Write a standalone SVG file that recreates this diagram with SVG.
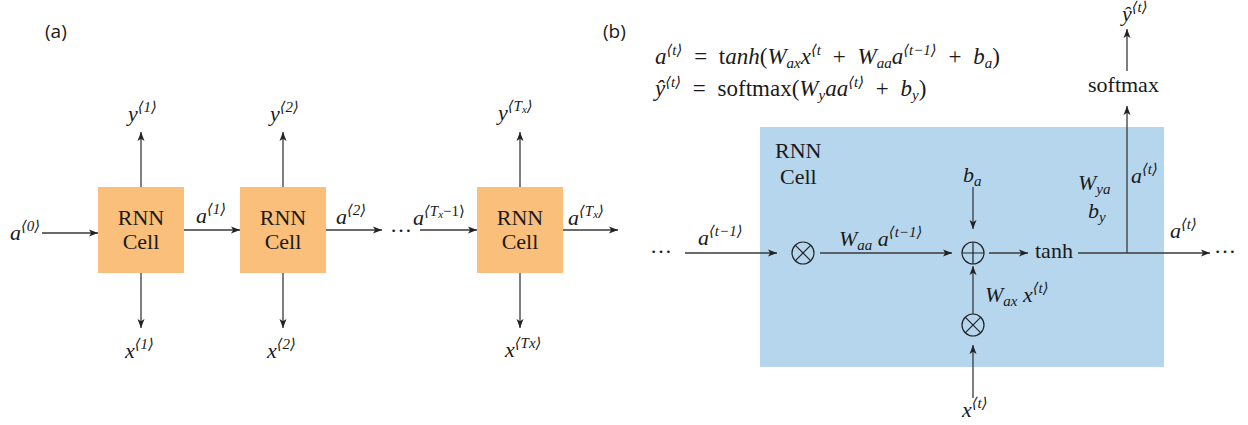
<svg xmlns="http://www.w3.org/2000/svg" width="1248" height="425" viewBox="0 0 1248 425">
<style>
.m{font-family:"Liberation Serif","DejaVu Serif","DejaVu Sans",serif;font-style:italic;font-size:22px;fill:#1a1a1a}
.eq{font-family:"Liberation Serif","DejaVu Serif","DejaVu Sans",serif;font-style:italic;font-size:23px;word-spacing:6px;fill:#1a1a1a}
.sup{font-size:15px}
.sub{font-size:15px}
.up{font-style:normal}
.rm{font-family:"Liberation Serif","DejaVu Serif",serif;font-size:22px;fill:#1a1a1a}
.sans{font-family:"Open Sans","Noto Sans",sans-serif;font-size:19px;fill:#1a1a1a}
.ln{stroke:#3a3a3a;stroke-width:1.3;fill:none}
.arr{marker-end:url(#ah)}
.cell{fill:#fabf7b}
.op{fill:none;stroke:#222;stroke-width:1.2}
</style>
<defs>
<marker id="ah" markerUnits="userSpaceOnUse" markerWidth="10" markerHeight="8" refX="9" refY="4" orient="auto">
<path d="M0,0.5 L9,4 L0,7.5 L2.2,4 z" fill="#222"/>
</marker>
</defs>
<rect width="1248" height="425" fill="#ffffff"/>

<text class="sans" x="45" y="38">(a)</text>
<text class="sans" x="603" y="38">(b)</text>

<!-- panel (a) nodes -->
<g id="cell1"><rect class="cell" x="98" y="187" width="86" height="86"/><text class="rm" x="141" y="225" text-anchor="middle">RNN</text><text class="rm" x="141" y="249" text-anchor="middle">Cell</text></g>
<g id="cell2"><rect class="cell" x="240" y="187" width="86" height="86"/><text class="rm" x="283" y="225" text-anchor="middle">RNN</text><text class="rm" x="283" y="249" text-anchor="middle">Cell</text></g>
<g id="cell3"><rect class="cell" x="477" y="187" width="86" height="86"/><text class="rm" x="520" y="225" text-anchor="middle">RNN</text><text class="rm" x="520" y="249" text-anchor="middle">Cell</text></g>

<!-- panel (b) cell -->
<g id="bigcell"><rect x="760" y="127" width="404" height="240" fill="#b6d6ee"/><text class="rm" x="775" y="158">RNN</text><text class="rm" x="780" y="184">Cell</text></g>
<g id="mul1"><circle class="op" cx="803" cy="253" r="11"/><path class="op" d="M795.2,245.2 L810.8,260.8 M810.8,245.2 L795.2,260.8"/></g>
<g id="add"><circle class="op" cx="973" cy="253" r="11"/><path class="op" d="M962,253 L984,253 M973,242 L973,264"/></g>
<g id="mul2"><circle class="op" cx="973" cy="325" r="11"/><path class="op" d="M965.2,317.2 L980.8,332.8 M980.8,317.2 L965.2,332.8"/></g>
<g id="tanh"><text class="rm" x="1035" y="258">tanh</text></g>
<g id="softmax"><text class="rm" x="1088" y="92">softmax</text></g>

<!-- connectors -->
<g id="connectors">
<path class="ln arr" d="M42,233 L98,233"/>
<path class="ln arr" d="M184,230 L240,230"/>
<path class="ln arr" d="M326,230 L382,230"/>
<path class="ln arr" d="M420,230 L477,230"/>
<path class="ln arr" d="M563,230 L618,230"/>
<path class="ln arr" d="M141,187 L141,132"/>
<path class="ln arr" d="M283,187 L283,132"/>
<path class="ln arr" d="M520,187 L520,132"/>
<path class="ln arr" d="M141,273 L141,328"/>
<path class="ln arr" d="M283,273 L283,328"/>
<path class="ln arr" d="M520,273 L520,328"/>

<path class="ln arr" d="M685,253 L777,253"/>
<path class="ln arr" d="M820,253 L952,253"/>
<path class="ln arr" d="M973,187 L973,229"/>
<path class="ln arr" d="M989,253 L1028,253"/>
<path class="ln arr" d="M1078,253 L1210,253"/>
<path class="ln arr" d="M1127,253 L1127,106"/>
<path class="ln arr" d="M1127,71 L1127,29"/>
<path class="ln arr" d="M973,314 L973,266"/>
<path class="ln arr" d="M973,398 L973,345"/>
</g>

<!-- panel (a) labels -->
<text class="m" x="10" y="240">a<tspan class="sup" dy="-9">⟨0⟩</tspan></text>
<text class="m" x="196" y="223">a<tspan class="sup" dy="-9">⟨1⟩</tspan></text>
<text class="m" x="336" y="224">a<tspan class="sup" dy="-9">⟨2⟩</tspan></text>
<text class="rm" x="390" y="232">…</text>
<text class="m" x="413" y="225">a<tspan class="sup" dy="-9">⟨T</tspan><tspan style="font-size:11px" dy="2">x</tspan><tspan class="sup up" dy="-2">−1⟩</tspan></text>
<text class="m" x="568" y="225">a<tspan class="sup" dy="-9">⟨T</tspan><tspan style="font-size:11px" dy="2">x</tspan><tspan class="sup" dy="-2">⟩</tspan></text>
<text class="m" x="128" y="121">y<tspan class="sup" dy="-9">⟨1⟩</tspan></text>
<text class="m" x="270" y="121">y<tspan class="sup" dy="-9">⟨2⟩</tspan></text>
<text class="m" x="498" y="120">y<tspan class="sup" dy="-9">⟨T</tspan><tspan style="font-size:11px" dy="2">x</tspan><tspan class="sup" dy="-2">⟩</tspan></text>
<text class="m" x="125" y="358">x<tspan class="sup" dy="-9">⟨1⟩</tspan></text>
<text class="m" x="267" y="358">x<tspan class="sup" dy="-9">⟨2⟩</tspan></text>
<text class="m" x="505" y="357">x<tspan class="sup" dy="-9">⟨Tx⟩</tspan></text>

<!-- equations -->
<text class="eq" x="655" y="64">a<tspan class="sup" dy="-9">⟨t⟩</tspan><tspan class="up" dy="9"> = t</tspan>anh<tspan class="up">(</tspan>W<tspan class="sub" dy="4">ax</tspan><tspan dy="-4">x</tspan><tspan class="sup" dy="-9">⟨t</tspan><tspan class="up" dy="9"> + </tspan>W<tspan class="sub" dy="4">aa</tspan><tspan dy="-4">a</tspan><tspan class="sup" dy="-9">⟨t−1⟩</tspan><tspan class="up" dy="9"> + </tspan>b<tspan class="sub" dy="4">a</tspan><tspan class="up" dy="-4">)</tspan></text>
<text class="eq" x="655" y="96">ŷ<tspan class="sup" dy="-9">⟨t⟩</tspan><tspan class="up" dy="9"> = softmax(</tspan>W<tspan class="sub" dy="4">y</tspan><tspan dy="-4">aa</tspan><tspan class="sup" dy="-9">⟨t⟩</tspan><tspan class="up" dy="9"> + </tspan>b<tspan class="sub" dy="4">y</tspan><tspan class="up" dy="-4">)</tspan></text>

<!-- panel (b) labels -->
<text class="rm" x="650" y="253">…</text>
<text class="rm" x="1214" y="253">…</text>
<text class="m" x="698" y="245">a<tspan class="sup" dy="-9">⟨t−1⟩</tspan></text>
<text class="m" x="839" y="246">W<tspan class="sub" dy="4">aa</tspan><tspan dy="-4"> a</tspan><tspan class="sup" dy="-9">⟨t−1⟩</tspan></text>
<text class="m" x="963" y="182">b<tspan class="sub" dy="4">a</tspan></text>
<text class="m" x="1170" y="238">a<tspan class="sup" dy="-9">⟨t⟩</tspan></text>
<text class="m" x="1122" y="21">ŷ<tspan class="sup" dy="-9">⟨t⟩</tspan></text>
<text class="m" x="1078" y="190">W<tspan class="sub" dy="4">ya</tspan></text>
<text class="m" x="1088" y="218">b<tspan class="sub" dy="4">y</tspan></text>
<text class="m" x="1131" y="183">a<tspan class="sup" dy="-9">⟨t⟩</tspan></text>
<text class="m" x="985" y="302">W<tspan class="sub" dy="4">ax</tspan><tspan dy="-4"> x</tspan><tspan class="sup" dy="-9">⟨t⟩</tspan></text>
<text class="m" x="962" y="417">x<tspan class="sup" dy="-9">⟨t⟩</tspan></text>
</svg>
